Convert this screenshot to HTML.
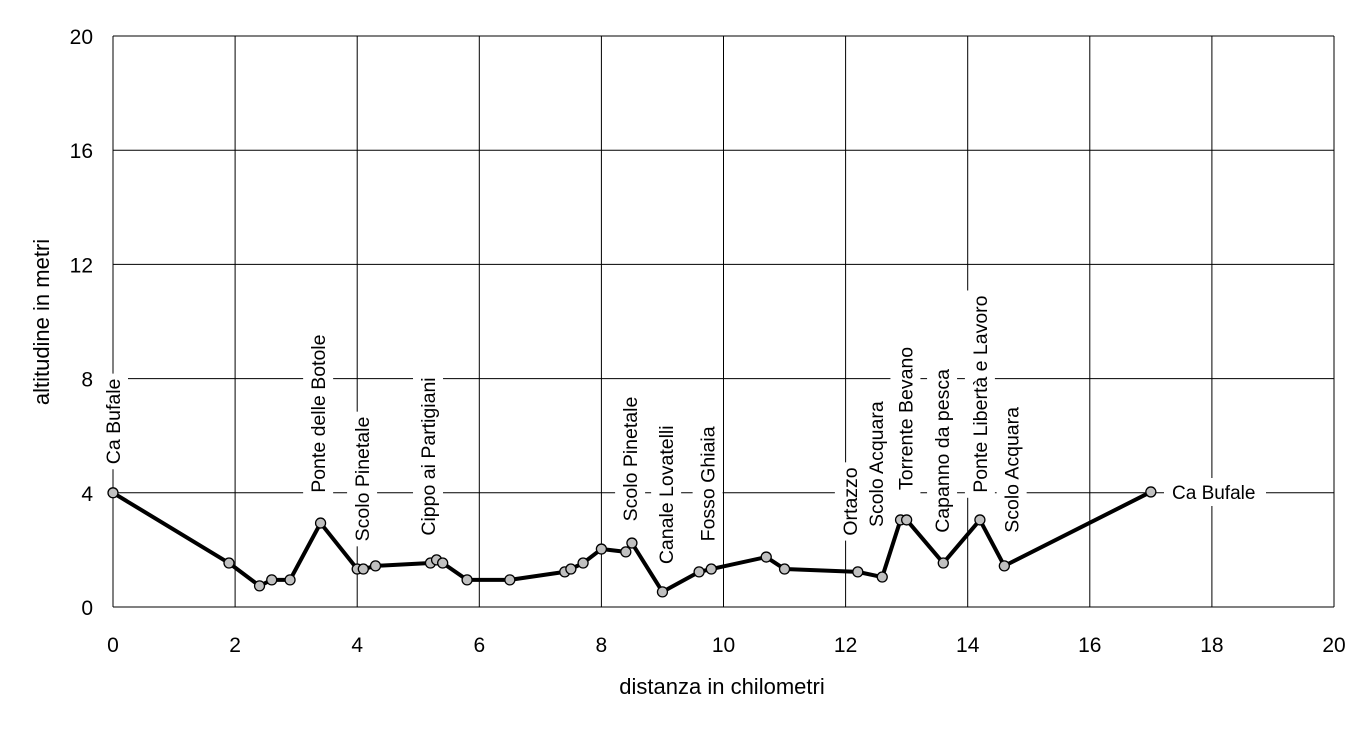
<!DOCTYPE html>
<html><head><meta charset="utf-8"><style>
body{margin:0;background:#fff;}
svg text{font-family:"Liberation Sans",Arial,sans-serif;}
</style></head><body>
<svg width="1371" height="730" xmlns="http://www.w3.org/2000/svg">
<g id="grid"></g>
<g id="labels"></g>
<g id="series"></g>
<g id="axes"></g>
<text x="722" y="694" font-size="22" text-anchor="middle">distanza in chilometri</text>
<text transform="translate(49,322) rotate(-90)" font-size="22" text-anchor="middle">altitudine  in metri</text>
</svg>
<script>
const distances=[0,1.9,2.4,2.6,2.9,3.4,4.0,4.1,4.3,5.2,5.3,5.4,5.8,6.5,7.4,7.5,7.7,8.0,8.4,8.5,9.0,9.6,9.8,10.7,11.0,12.2,12.6,12.9,13.0,13.6,14.2,14.6,17];
const altitudes=[4,1.54,0.74,0.95,0.95,2.94,1.33,1.33,1.44,1.54,1.65,1.54,0.95,0.95,1.23,1.33,1.54,2.03,1.93,2.24,0.53,1.23,1.33,1.75,1.33,1.23,1.05,3.05,3.05,1.54,3.05,1.44,4.03];
const xTicks=[0,2,4,6,8,10,12,14,16,18,20];
const yTicks=[0,4,8,12,16,20];
const labelNames=["Ca Bufale","Ponte delle Botole","Scolo Pinetale","Cippo ai Partigiani","Scolo Pinetale","Canale Lovatelli","Fosso Ghiaia","Ortazzo","Scolo Acquara","Torrente Bevano","Capanno da pesca","Ponte Libertà e Lavoro","Scolo Acquara"];
const labelKm=[0,3.36,4.08,5.16,8.47,9.06,9.74,12.07,12.5,12.98,13.58,14.2,14.72];
const labelBase=[5.0,4.0,2.3,2.5,3.0,1.5,2.3,2.5,2.8,4.1,2.6,4.0,2.6];
const X=v=>113+v*(1334-113)/20;
const Y=v=>607-v*(607-36)/20;
const NS="http://www.w3.org/2000/svg";
function mk(tag,attrs,parent){const e=document.createElementNS(NS,tag);for(const k in attrs)e.setAttribute(k,attrs[k]);parent.appendChild(e);return e;}
const grid=document.getElementById('grid'),axes=document.getElementById('axes'),labels=document.getElementById('labels'),series=document.getElementById('series');
xTicks.forEach(t=>{
 const l=mk('line',{x1:X(t),x2:X(t),y1:Y(20),y2:Y(0),stroke:'#000','stroke-width':1},grid);
 
 
 const tx=mk('text',{x:X(t),y:652,'font-size':21,'text-anchor':'middle'},axes);
 tx.textContent=t;
 
 
});
yTicks.forEach(t=>{
 const l=mk('line',{x1:X(0),x2:X(20),y1:Y(t),y2:Y(t),stroke:'#000','stroke-width':1},grid);
 
 
 const tx=mk('text',{x:93,y:Y(t)+8,'font-size':21,'text-anchor':'end'},axes);
 tx.textContent=t;
 
 
});
labelNames.forEach((n,i)=>{
 const g=mk('g',{transform:`translate(${X(labelKm[i])},${Y(labelBase[i])}) rotate(-90)`},labels);
 
 
 const r=mk('rect',{x:-5,y:-15,height:30,width:10,fill:'#fff'},g);
 const t=mk('text',{x:0,y:7,'font-size':19.5},g);
 t.textContent=n;
 const w=t.getComputedTextLength();
 r.setAttribute('width',w+10);
});
{
 const g=mk('g',{},labels);
 
 
 mk('rect',{x:1164,y:478,width:102,height:28,fill:'#fff'},g);
 const t=mk('text',{x:1172,y:499,'font-size':19},g);
 t.textContent="Ca Bufale";
}
const pts=distances.map((d,i)=>X(d)+','+Y(altitudes[i])).join(' ');
const pl=mk('polyline',{points:pts,fill:'none',stroke:'#000','stroke-width':4,'stroke-linejoin':'round'},series);


distances.forEach((d,i)=>{
 const c=mk('circle',{cx:X(d),cy:Y(altitudes[i]),r:5,fill:'#c0c0c0',stroke:'#000','stroke-width':1.3},series);
 
 
});
</script>
</body></html>
